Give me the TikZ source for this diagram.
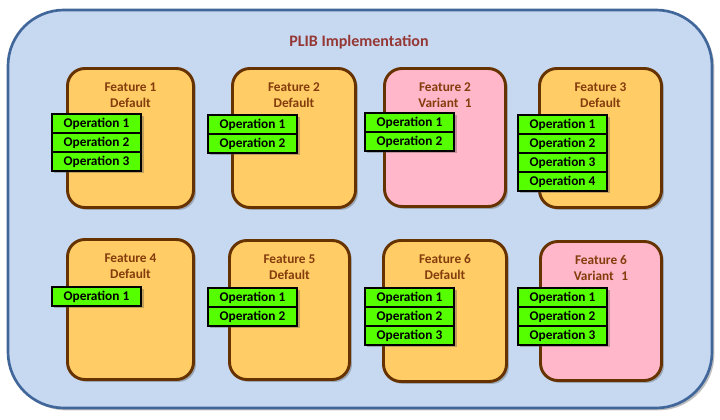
\documentclass[tikz,border=0pt]{standalone}
\usepackage{fontspec}
\setmainfont{Carlito}
\usetikzlibrary{shadows}
\definecolor{outerfill}{RGB}{198,217,241}
\definecolor{outerdraw}{RGB}{65,102,154}
\definecolor{featfill}{RGB}{255,204,102}
\definecolor{varfill}{RGB}{255,183,201}
\definecolor{featdraw}{RGB}{102,51,0}
\definecolor{feattext}{RGB}{132,60,12}
\definecolor{titletext}{RGB}{149,55,53}
\definecolor{opfill}{RGB}{85,255,0}
\begin{document}
\begin{tikzpicture}[x=0.75pt,y=-0.75pt,
  shadowed/.style={drop shadow={shadow xshift=1.8pt,shadow yshift=-1.8pt,opacity=0.35,fill=black!70}},
  outerbox/.style={draw=outerdraw, line width=2pt, fill=outerfill, rounded corners=42pt,
    minimum width=528pt, minimum height=298.5pt, inner sep=0pt, shadowed},
  featbox/.style={draw=featdraw, line width=2.2pt, fill=featfill, rounded corners=13pt,
    inner sep=0pt, shadowed},
  varbox/.style={featbox, fill=varfill},
  featlabel/.style={text=feattext, font=\bfseries\fontsize{10}{12}\selectfont, align=center, inner sep=0pt},
  titlelabel/.style={text=titletext, font=\bfseries\fontsize{12}{14}\selectfont, inner sep=0pt},
  opbox/.style={draw=black, line width=1.5pt, fill=opfill, minimum width=67pt, minimum height=14.25pt,
    inner sep=0pt, font=\bfseries\fontsize{10}{12}\selectfont, shadowed}
]
\path[fill=white, use as bounding box] (0,0) rectangle (720,420);

\node[outerbox] (outer) at (360,209) {};
\node[titlelabel] (title) at (359,42) {PLIB Implementation};

% row 1
\node[featbox, minimum width=94.5pt, minimum height=104.25pt] (f1) at (130.5,138) {};
\node[featbox, minimum width=92.25pt, minimum height=104.25pt] (f2) at (294,138) {};
\node[varbox,  minimum width=90.75pt, minimum height=103.5pt]  (f3) at (445,137.5) {};
\node[featbox, minimum width=91.5pt, minimum height=104.25pt]  (f4) at (600.5,138) {};
% row 2
\node[featbox, minimum width=94.5pt, minimum height=105pt]    (f5) at (130.5,309.5) {};
\node[featbox, minimum width=90pt, minimum height=104.25pt]   (f6) at (289.5,310) {};
\node[featbox, minimum width=92.25pt, minimum height=105.75pt] (f7) at (445,311) {};
\node[varbox,  minimum width=90.75pt, minimum height=104.25pt] (f8) at (601,311) {};

\node[featlabel] (l1) at ([yshift=-21pt]f1.north) {Feature 1\\Default};
\node[featlabel] (l2) at ([yshift=-21pt]f2.north) {Feature 2\\Default};
\node[featlabel] (l3) at ([yshift=-21pt]f3.north) {Feature 2\\Variant\hspace{0.25em} 1};
\node[featlabel] (l4) at ([yshift=-21pt]f4.north) {Feature 3\\Default};
\node[featlabel] (l5) at ([yshift=-21pt]f5.north) {Feature 4\\Default};
\node[featlabel] (l6) at ([yshift=-21pt]f6.north) {Feature 5\\Default};
\node[featlabel] (l7) at ([yshift=-21pt]f7.north) {Feature 6\\Default};
\node[featlabel] (l8) at ([yshift=-21pt]f8.north) {Feature 6\\Variant\hspace{0.35em} 1};

\foreach \n/\x/\y/\k in {a/51/113/3, b/207/114/2, c/364/112/2, d/517/114/4,
                         e/51/286/1, f/207/287/2, g/364/287/3, h/517/287/3} {
  \foreach \i in {1,...,\k} {
    \node[opbox] (\n op\i) at (\x+45.5, \y+1+19*\i-9.5) {Operation \i};
  }
}
\end{tikzpicture}
\end{document}
